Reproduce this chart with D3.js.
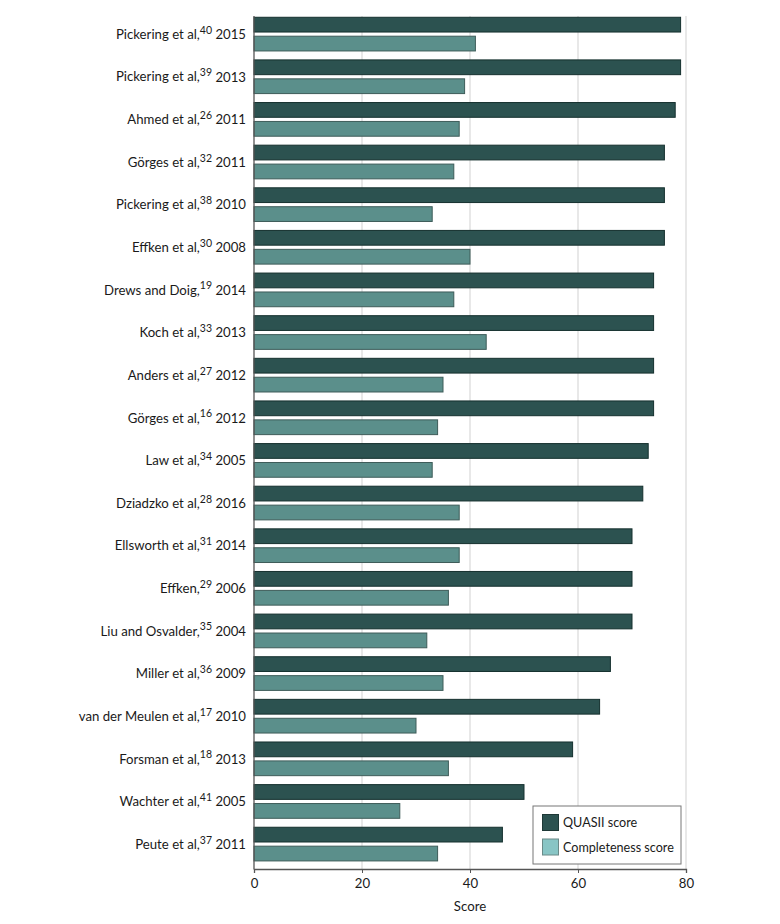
<!DOCTYPE html>
<html><head><meta charset="utf-8">
<script src="https://cdn.jsdelivr.net/npm/d3@7"></script>
<style>body{margin:0;background:#fff}svg{display:block}text{font-family:Lato,"Noto Sans",sans-serif;fill:#1a1a1a}</style>
</head><body><svg id="c" width="780" height="924"></svg>
<script>
const authors = ["Pickering et al,","Pickering et al,","Ahmed et al,","Görges et al,","Pickering et al,","Effken et al,","Drews and Doig,","Koch et al,","Anders et al,","Görges et al,","Law et al,","Dziadzko et al,","Ellsworth et al,","Effken,","Liu and Osvalder,","Miller et al,","van der Meulen et al,","Forsman et al,","Wachter et al,","Peute et al,"];
const refs = ["40","39","26","32","38","30","19","33","27","16","34","28","31","29","35","36","17","18","41","37"];
const years = ["2015","2013","2011","2011","2010","2008","2014","2013","2012","2012","2005","2016","2014","2006","2004","2009","2010","2013","2005","2011"];
const quasii = [79,79,78,76,76,76,74,74,74,74,73,72,70,70,70,66,64,59,50,46];
const completeness = [41,39,38,37,33,40,37,43,35,34,33,38,38,36,32,35,30,36,27,34];
const seriesNames = ["QUASII score","Completeness score"];
const xTicks = [0,20,40,60,80];

const svg = d3.select("#c");
const x0 = 254, x1 = 686, plotTop = 16, plotBottom = 869;
const x = d3.scaleLinear().domain([0,80]).range([x0,x1]);
const rows = d3.range(authors.length);
const y = d3.scaleBand().domain(rows).range([12.8, 865.4]).paddingInner(0.21).paddingOuter(0.105);
const ySub = d3.scaleBand().domain([0,1]).range([0, y.bandwidth()]).paddingInner(0.22);
const fills = ["#2c5250","#5b8f8b"];
const strokes = ["#15302e","#3e5c59"];
const legendFills = ["#2c5250","#88c5c5"];

// gridlines
svg.append("g").selectAll("line").data(xTicks.filter(d=>d>0)).join("line")
  .attr("x1",d=>x(d)).attr("x2",d=>x(d)).attr("y1",plotTop).attr("y2",plotBottom)
  .attr("stroke","#dcdcdc").attr("stroke-width",1.3);

// bars
const g = svg.append("g");
const vals = [quasii, completeness];
[0,1].forEach(s=>{
  g.selectAll(null).data(rows).join("rect")
    .attr("x",x(0)).attr("y",i=>y(i)+ySub(s))
    .attr("width",i=>x(vals[s][i])-x(0)).attr("height",ySub.bandwidth())
    .attr("fill",fills[s]).attr("stroke",strokes[s]).attr("stroke-width",1);
});

// y labels
const lab = svg.append("g").selectAll("text").data(rows).join("text")
  .attr("x",x0-8).attr("y",i=>y(i)+y.bandwidth()/2).attr("dy","0.36em")
  .attr("text-anchor","end").attr("font-size",13.2);
lab.append("tspan").text(i=>authors[i]);
lab.append("tspan").attr("font-size",10.5).attr("dy","-0.5em").text(i=>refs[i]);
lab.append("tspan").attr("dy","0.4em").text(i=>"\u00a0"+years[i]);

// axes lines
svg.append("line").attr("x1",x0).attr("x2",x0).attr("y1",plotTop).attr("y2",plotBottom+0.5)
  .attr("stroke","#555").attr("stroke-width",1.3);
const xa = svg.append("g").attr("transform",`translate(0,${plotBottom})`)
  .call(d3.axisBottom(x).tickValues(xTicks).tickSize(4).tickPadding(6));
xa.select(".domain").attr("stroke","#555").attr("stroke-width",1.3);
xa.selectAll(".tick line").attr("stroke","#555");
xa.selectAll("text").attr("font-size",13.2).attr("font-family","Lato, 'Noto Sans', sans-serif").attr("fill","#1a1a1a");
svg.append("text").attr("x",(x0+x1)/2).attr("y",911).attr("text-anchor","middle").attr("font-size",13.2).text("Score");

// legend
const lg = svg.append("g").attr("transform","translate(533,806)");
lg.append("rect").attr("width",148).attr("height",58).attr("fill","#fff").attr("stroke","#777").attr("stroke-width",1);
seriesNames.forEach((n,i)=>{
  lg.append("rect").attr("x",9.5).attr("y",8.5+i*24.5).attr("width",16).attr("height",16)
    .attr("fill",legendFills[i]).attr("stroke",i?"#6a8a88":"#1e3836");
  lg.append("text").attr("x",30).attr("y",16.5+i*24.5).attr("dy","0.36em").attr("font-size",12.6).text(n);
});
</script></body></html>
